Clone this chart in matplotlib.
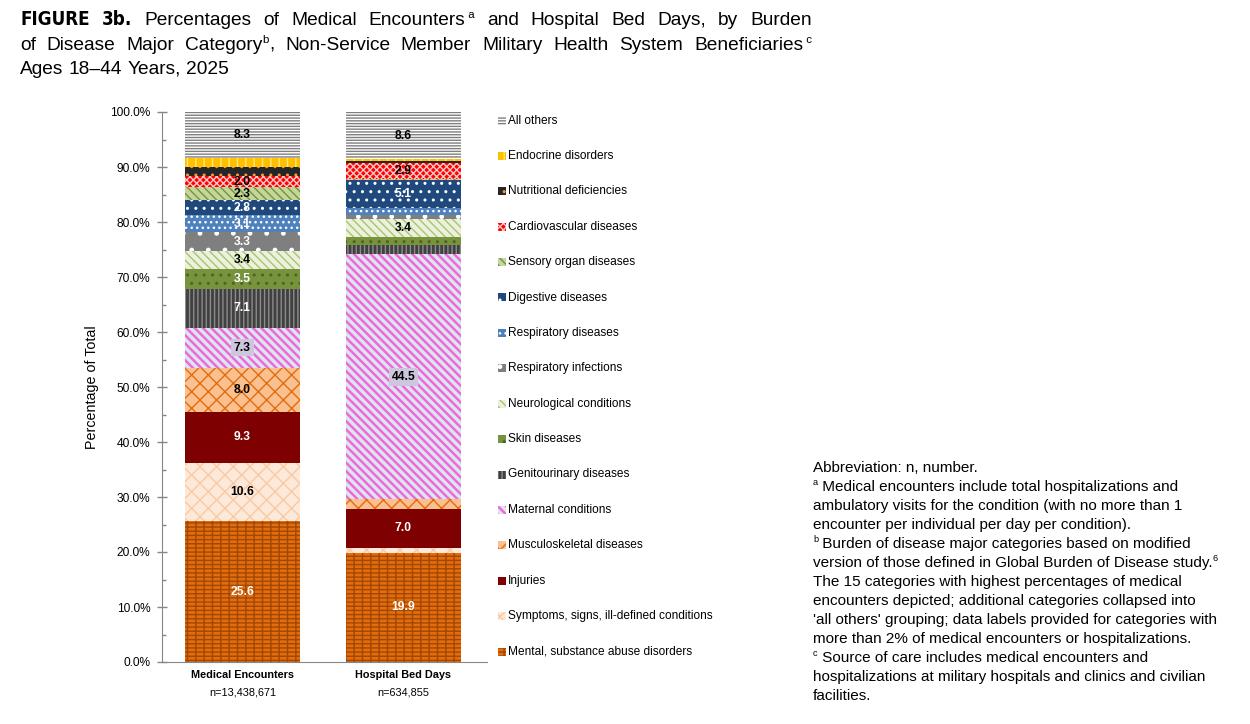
import matplotlib
matplotlib.use("Agg")
import matplotlib.pyplot as plt
import matplotlib.ticker as mticker
from matplotlib.patches import Rectangle

plt.rcParams["font.family"] = ["Liberation Sans", "DejaVu Sans"]
plt.rcParams["hatch.linewidth"] = 1.0

W, H = 1250, 724

# ---- data ----
groups = ["Medical Encounters", "Hospital Bed Days"]
group_n = ["n=13,438,671", "n=634,855"]
categories = [
    "Mental, substance abuse disorders",
    "Symptoms, signs, ill-defined conditions",
    "Injuries",
    "Musculoskeletal diseases",
    "Maternal conditions",
    "Genitourinary diseases",
    "Skin diseases",
    "Neurological conditions",
    "Respiratory infections",
    "Respiratory diseases",
    "Digestive diseases",
    "Sensory organ diseases",
    "Cardiovascular diseases",
    "Nutritional deficiencies",
    "Endocrine disorders",
    "All others",
]
medical_pct = [25.6, 10.6, 9.3, 8.0, 7.3, 7.1, 3.5, 3.4, 3.3, 3.1, 2.8, 2.3, 2.0, 1.7, 1.7, 8.3]
bed_days_pct = [19.9, 0.9, 7.0, 1.8, 44.5, 1.8, 1.3, 3.4, 0.6, 1.4, 5.1, 0.1, 2.9, 0.4, 0.3, 8.6]
yticks = [0, 10, 20, 30, 40, 50, 60, 70, 80, 90, 100]

# face colour, hatch, hatch colour, label colour, hatch width
styles = [
    ("#E46C0A", "----||", "#A04808", "white", 1.0),
    ("#FDE9D9", "xx", "#F9C9A4", "black", 1.0),
    ("#7F0000", "", "#7F0000", "white", 1.0),
    ("#FAC090", "xx", "#E46C0A", "black", 1.0),
    ("#DCE6F2", "\\\\\\\\", "#EE6AD8", "black", 1.8),
    ("#404040", "||||", "#8C8C8C", "white", 1.0),
    ("#77933C", "..", "#4F6228", "white", 1.0),
    ("#EBF1DE", "\\\\\\\\", "#A9C46C", "black", 1.0),
    ("#7F7F7F", ".", "#FFFFFF", "white", 1.0),
    ("#4F81BD", "...", "#FFFFFF", "white", 1.0),
    ("#1F497D", "..", "#FFFFFF", "white", 1.0),
    ("#C3D69B", "\\\\\\\\", "#77933C", "black", 1.0),
    ("#FF0000", "xxxxx", "#FFC8C8", "black", 1.0),
    ("#262626", "..", "#F79646", "white", 1.0),
    ("#FFC000", "||", "#FFE680", "black", 1.0),
    ("#FFFFFF", "------", "#7F7F7F", "black", 1.0),
]

fig = plt.figure(figsize=(W / 100, H / 100), dpi=100)
ax = fig.add_axes([162 / W, 1 - 662 / H, 325 / W, 550 / H])

series = [medical_pct, bed_days_pct]
for gi, vals in enumerate(series):
    bottom = 0.0
    for ci, v in enumerate(vals):
        face, hatch, hcol, lcol, hw = styles[ci]
        with plt.rc_context({"hatch.linewidth": hw}):
            ax.bar(gi, v, bottom=bottom, width=0.715, color=face, hatch=hatch,
                   edgecolor=hcol, linewidth=0)
        if v >= 2.0:
            box = None
            if categories[ci] == "Maternal conditions":
                box = dict(facecolor="#CEC6DC", edgecolor="none", pad=2)
            ax.text(gi, bottom + v / 2, f"{v:.1f}", ha="center", va="center",
                    fontsize=8.7, fontweight="bold", color=lcol, bbox=box)
        bottom += v

ax.set_xlim(-0.5, 1.52)
ax.set_ylim(0, 100)
ax.set_yticks(yticks)
ax.yaxis.set_major_formatter(mticker.FuncFormatter(lambda y, _: f"{y:.1f}%"))
ax.yaxis.set_minor_locator(mticker.MultipleLocator(5))
ax.tick_params(axis="y", which="major", direction="inout", length=7, width=1,
               color="#868686", labelsize=8.6, pad=5)
ax.tick_params(axis="y", which="minor", direction="in", length=3, width=1,
               color="#868686")
ax.set_xticks([])
for s in ["top", "right"]:
    ax.spines[s].set_visible(False)
for s in ["left", "bottom"]:
    ax.spines[s].set_color("#868686")
ax.set_ylabel("Percentage of Total", fontsize=10.3, labelpad=8)

for gi, (g, n) in enumerate(zip(groups, group_n)):
    ax.text(gi, -0.024, g, transform=ax.get_xaxis_transform(), ha="center",
            va="center", fontsize=7.8, fontweight="bold")
    ax.text(gi, -0.055, n, transform=ax.get_xaxis_transform(), ha="center",
            va="center", fontsize=7.8)

# legend, drawn by hand (top entry = last category)
for k, ci in enumerate(reversed(range(len(categories)))):
    face, hatch, hcol, _, hw = styles[ci]
    yc = 120.5 + k * 35.4
    with plt.rc_context({"hatch.linewidth": hw}):
        fig.patches.append(Rectangle((498 / W, 1 - (yc + 4) / H), 8 / W, 8 / H,
                                     transform=fig.transFigure, facecolor=face,
                                     hatch=hatch, edgecolor=hcol, linewidth=0))
    fig.text(508 / W, 1 - yc / H, categories[ci], fontsize=8.6, va="center")

# ---- text with superscripts / justification ----
fig.canvas.draw()
renderer = fig.canvas.get_renderer()


def make_word(pieces, size):
    arts = []
    for txt, kind in pieces:
        if kind == "fig":
            t = fig.text(0, 0, txt, fontsize=size * 0.98, fontweight="bold",
                         family="DejaVu Sans", fontstretch="condensed")
        elif kind == "sup":
            t = fig.text(0, 0, txt, fontsize=size * 0.6)
        else:
            t = fig.text(0, 0, txt, fontsize=size)
        arts.append((t, kind))
    widths = [t.get_window_extent(renderer).width for t, _ in arts]
    return arts, widths


def place_line(words, x0, y, size, x1=None, space=None):
    built = [make_word(w, size) for w in words]
    total = sum(sum(ws) for _, ws in built)
    if space is None:
        space = size * 1.39 * 0.278
    if x1 is not None and len(words) > 1:
        space = max((x1 - x0 - total) / (len(words) - 1), space * 0.8)
    x = x0
    for arts, ws in built:
        for (t, kind), w in zip(arts, ws):
            dy = size * 1.39 * 0.38 if kind == "sup" else 0
            t.set_position((x / W, 1 - (y - dy) / H))
            t.set_va("baseline")
            x += w
        x += space


def split(text):
    return [[(w, "n")] for w in text.split()]


ts = 13.8
line1 = [[("FIGURE", "fig")], [("3b.", "fig")]] + split("Percentages of Medical") + \
    [[("Encounters", "n"), (" a", "sup")]] + split("and Hospital Bed Days, by Burden")
line2 = split("of Disease Major") + [[("Category", "n"), ("b", "sup"), (",", "n")]] + \
    split("Non-Service Member Military Health System") + [[("Beneficiaries", "n"), (" c", "sup")]]
place_line(line1, 20, 25, ts, x1=812)
place_line(line2, 20, 50, ts, x1=812)
place_line(split("Ages 18–44 Years, 2025"), 20, 74, ts)

notes = [
    [("Abbreviation: n, number.", "n")],
    [("a", "sup"), (" Medical encounters include total hospitalizations and", "n")],
    [("ambulatory visits for the condition (with no more than 1", "n")],
    [("encounter per individual per day per condition).", "n")],
    [("b", "sup"), (" Burden of disease major categories based on modified", "n")],
    [("version of those defined in Global Burden of Disease study.", "n"), ("6", "sup")],
    [("The 15 categories with highest percentages of medical", "n")],
    [("encounters depicted; additional categories collapsed into", "n")],
    [("'all others' grouping; data labels provided for categories with", "n")],
    [("more than 2% of medical encounters or hospitalizations.", "n")],
    [("c", "sup"), (" Source of care includes medical encounters and", "n")],
    [("hospitalizations at military hospitals and clinics and civilian", "n")],
    [("facilities.", "n")],
]
for i, pieces in enumerate(notes):
    place_line([pieces], 813, 472 + i * 19.0, 11.0)

fig.savefig("out.png", dpi=100)
